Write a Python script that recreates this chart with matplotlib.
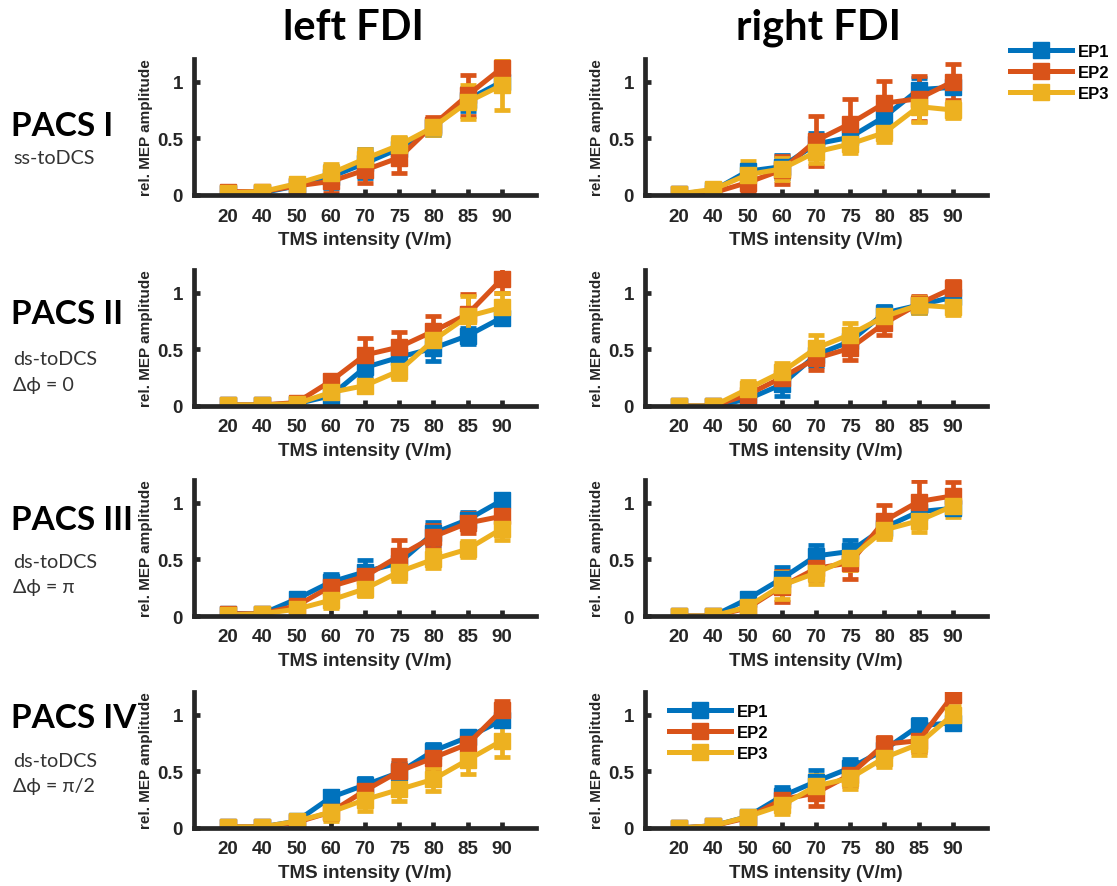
import matplotlib.pyplot as plt
from matplotlib.lines import Line2D

intensity = ['20', '40', '50', '60', '70', '75', '80', '85', '90']
series = ['EP1', 'EP2', 'EP3']
colors = ['#0072BD', '#D95319', '#EDB120']
columns = ['left FDI', 'right FDI']
rows = ['PACS I', 'PACS II', 'PACS III', 'PACS IV']
row_notes = [['ss-toDCS'],
             ['ds-toDCS', 'Δϕ = 0'],
             ['ds-toDCS', 'Δϕ = π'],
             ['ds-toDCS', 'Δϕ = π/2']]

# mean / error per panel, one list per episode (EP1, EP2, EP3)
left_1_mean = [[0.02, 0.02, 0.08, 0.16, 0.28, 0.41, 0.60, 0.84, 1.00],
               [0.03, 0.03, 0.08, 0.12, 0.22, 0.33, 0.62, 0.88, 1.12],
               [0.02, 0.03, 0.10, 0.19, 0.32, 0.44, 0.60, 0.82, 0.97]]
left_1_err = [[0.01, 0.02, 0.04, 0.10, 0.13, 0.09, 0.07, 0.10, 0.06],
              [0.02, 0.02, 0.04, 0.10, 0.11, 0.14, 0.07, 0.18, 0.12],
              [0.02, 0.02, 0.04, 0.08, 0.09, 0.07, 0.07, 0.15, 0.22]]
right_1_mean = [[0.01, 0.04, 0.21, 0.25, 0.45, 0.51, 0.69, 0.93, 0.95],
                [0.01, 0.02, 0.11, 0.22, 0.48, 0.63, 0.81, 0.85, 1.00],
                [0.01, 0.05, 0.18, 0.23, 0.38, 0.45, 0.55, 0.78, 0.75]]
right_1_err = [[0.01, 0.02, 0.05, 0.10, 0.10, 0.08, 0.10, 0.10, 0.05],
               [0.01, 0.03, 0.08, 0.12, 0.22, 0.22, 0.20, 0.20, 0.16],
               [0.01, 0.02, 0.12, 0.10, 0.10, 0.08, 0.08, 0.14, 0.07]]

left_2_mean = [[0.01, 0.01, 0.02, 0.09, 0.34, 0.43, 0.51, 0.62, 0.78],
               [0.01, 0.01, 0.03, 0.22, 0.45, 0.52, 0.66, 0.81, 1.12],
               [0.01, 0.01, 0.02, 0.12, 0.18, 0.31, 0.58, 0.79, 0.87]]
left_2_err = [[0.01, 0.01, 0.01, 0.06, 0.08, 0.08, 0.11, 0.07, 0.05],
              [0.01, 0.01, 0.01, 0.05, 0.15, 0.13, 0.13, 0.18, 0.12],
              [0.01, 0.01, 0.01, 0.05, 0.05, 0.07, 0.12, 0.18, 0.13]]
right_2_mean = [[0.00, 0.00, 0.06, 0.19, 0.45, 0.57, 0.82, 0.89, 0.96],
                [0.00, 0.00, 0.10, 0.25, 0.42, 0.51, 0.73, 0.90, 1.04],
                [0.00, 0.00, 0.15, 0.30, 0.51, 0.63, 0.79, 0.89, 0.87]]
right_2_err = [[0.01, 0.01, 0.05, 0.10, 0.10, 0.10, 0.06, 0.07, 0.05],
               [0.01, 0.01, 0.05, 0.10, 0.10, 0.10, 0.10, 0.07, 0.06],
               [0.01, 0.01, 0.07, 0.08, 0.12, 0.10, 0.08, 0.07, 0.07]]

left_3_mean = [[0.02, 0.02, 0.15, 0.30, 0.39, 0.47, 0.73, 0.85, 1.02],
               [0.02, 0.02, 0.09, 0.26, 0.35, 0.53, 0.70, 0.82, 0.88],
               [0.01, 0.02, 0.06, 0.14, 0.24, 0.39, 0.50, 0.59, 0.77]]
left_3_err = [[0.01, 0.01, 0.04, 0.07, 0.10, 0.08, 0.10, 0.07, 0.06],
              [0.02, 0.02, 0.04, 0.07, 0.08, 0.14, 0.10, 0.09, 0.10],
              [0.01, 0.01, 0.04, 0.07, 0.06, 0.08, 0.08, 0.07, 0.10]]
right_3_mean = [[0.00, 0.00, 0.15, 0.33, 0.53, 0.57, 0.78, 0.92, 0.95],
                [0.00, 0.00, 0.07, 0.26, 0.42, 0.47, 0.84, 1.01, 1.06],
                [0.00, 0.00, 0.08, 0.27, 0.38, 0.51, 0.76, 0.84, 0.97]]
right_3_err = [[0.01, 0.01, 0.03, 0.10, 0.10, 0.10, 0.06, 0.07, 0.05],
               [0.01, 0.01, 0.04, 0.14, 0.10, 0.14, 0.14, 0.18, 0.12],
               [0.01, 0.01, 0.05, 0.12, 0.10, 0.10, 0.08, 0.10, 0.10]]

left_4_mean = [[0.01, 0.01, 0.06, 0.27, 0.38, 0.49, 0.68, 0.80, 0.95],
               [0.01, 0.01, 0.05, 0.14, 0.33, 0.50, 0.62, 0.74, 1.04],
               [0.01, 0.01, 0.06, 0.14, 0.25, 0.34, 0.43, 0.60, 0.77]]
left_4_err = [[0.01, 0.01, 0.02, 0.06, 0.06, 0.08, 0.06, 0.05, 0.05],
              [0.01, 0.01, 0.02, 0.06, 0.10, 0.10, 0.10, 0.10, 0.08],
              [0.01, 0.01, 0.03, 0.08, 0.10, 0.10, 0.10, 0.12, 0.14]]
right_4_mean = [[0.00, 0.02, 0.10, 0.28, 0.41, 0.53, 0.69, 0.90, 0.93],
                [0.00, 0.02, 0.09, 0.25, 0.31, 0.47, 0.74, 0.77, 1.17],
                [0.00, 0.02, 0.10, 0.20, 0.37, 0.44, 0.62, 0.74, 1.00]]
right_4_err = [[0.01, 0.01, 0.03, 0.08, 0.10, 0.08, 0.08, 0.06, 0.05],
               [0.01, 0.01, 0.03, 0.08, 0.12, 0.10, 0.06, 0.10, 0.05],
               [0.01, 0.01, 0.04, 0.08, 0.10, 0.10, 0.08, 0.10, 0.08]]

panels = [[(left_1_mean, left_1_err), (right_1_mean, right_1_err)],
          [(left_2_mean, left_2_err), (right_2_mean, right_2_err)],
          [(left_3_mean, left_3_err), (right_3_mean, right_3_err)],
          [(left_4_mean, left_4_err), (right_4_mean, right_4_err)]]

W, H = 1117, 887
ax_font = 'Liberation Sans'
label_font = ['Lato', 'Open Sans', 'DejaVu Sans']
ink = '#262626'

fig = plt.figure(figsize=(W / 100, H / 100), dpi=100)

col_x0 = [194, 645]
col_w = 342
row_y0 = [196, 407, 617, 829]   # pixel row of the x axis
row_h = 136

x = list(range(1, len(intensity) + 1))
axes = []
for r in range(4):
    for c in range(2):
        ax = fig.add_axes([col_x0[c] / W, 1 - row_y0[r] / H, col_w / W, row_h / H])
        means, errs = panels[r][c]
        for k in range(3):
            ax.errorbar(x, means[k], yerr=errs[k], color=colors[k], lw=3.6,
                        marker='s', ms=11, mec=colors[k], elinewidth=3.4,
                        capsize=5.5, capthick=3.4, label=series[k])
        ax.set_xlim(0, 10)
        ax.set_ylim(0, 1.2)
        ax.set_xticks(x)
        ax.set_xticklabels(intensity)
        ax.set_yticks([0, 0.5, 1])
        ax.set_yticklabels(['0', '0.5', '1'])
        for s in ['top', 'right']:
            ax.spines[s].set_visible(False)
        for s in ['left', 'bottom']:
            ax.spines[s].set_linewidth(3.4)
            ax.spines[s].set_color(ink)
        ax.tick_params(direction='in', length=4, width=3.4, color=ink,
                       labelsize=13.5, labelcolor=ink)
        ax.tick_params(axis='x', pad=9)
        ax.tick_params(axis='y', pad=8)
        for t in ax.get_xticklabels() + ax.get_yticklabels():
            t.set_fontfamily(ax_font)
            t.set_fontweight('bold')
        ax.set_xlabel('TMS intensity (V/m)', fontsize=13.5, fontweight='bold',
                      family=ax_font, color=ink, labelpad=5)
        ax.set_ylabel('rel. MEP amplitude', fontsize=11, fontweight='bold',
                      family=ax_font, color=ink, labelpad=3)
        axes.append(ax)

# column titles
title_x = [353, 818]
for c, name in enumerate(columns):
    fig.text(title_x[c] / W, 1 - 28 / H, name, fontsize=30,
             fontweight='bold', family=label_font, ha='center', va='center')

# row labels
row_title_y = [127, 315, 521, 719]
note_y = [[159], [360, 385], [563, 587], [762, 787]]
for r in range(4):
    fig.text(11 / W, 1 - row_title_y[r] / H, rows[r], fontsize=24,
             fontweight='bold', family=label_font, ha='left', va='center')
    for note, yy in zip(row_notes[r], note_y[r]):
        fig.text(13 / W, 1 - yy / H, note, fontsize=14.2, family=label_font,
                 color='#333333', ha='left', va='center')

handles = [Line2D([], [], color=colors[k], lw=3.6, marker='s', ms=11,
                  mec=colors[k]) for k in range(3)]
leg_kw = dict(frameon=False, handlelength=3.7, handletextpad=0.35,
              labelspacing=0.35, borderpad=0, borderaxespad=0,
              prop={'family': ax_font, 'weight': 'bold', 'size': 12})
fig.legend(handles, series, loc='upper left',
           bbox_to_anchor=(1010 / W, 1 - 45 / H), **leg_kw)
fig.legend(handles, series, loc='upper left',
           bbox_to_anchor=(669 / W, 1 - 705 / H), **leg_kw)

fig.savefig('out.png', dpi=100)
